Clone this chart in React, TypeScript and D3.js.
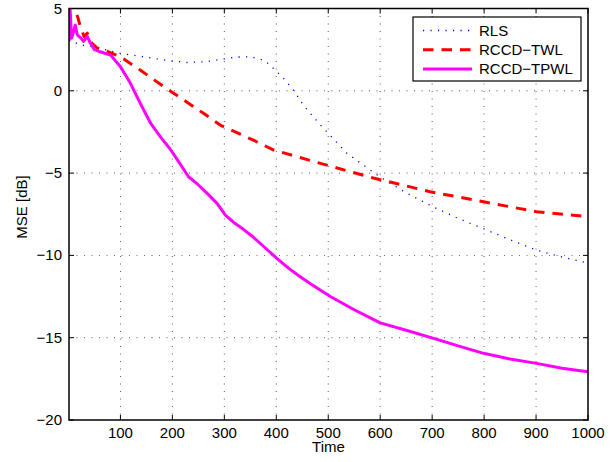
import React from "react";
import * as d3 from "d3";

const xTicks = [100, 200, 300, 400, 500, 600, 700, 800, 900, 1000];
const yTicks = [5, 0, -5, -10, -15, -20];

const rlsX = [1, 10, 20, 30, 42, 74, 100, 138, 187, 228, 267, 292, 324, 350, 363, 376, 388, 401, 414, 433, 452, 485, 536, 600, 650, 702, 750, 805, 850, 901, 950, 1000];
const rlsY = [3.1, 2.95, 2.85, 2.75, 2.7, 2.47, 2.27, 2.1, 1.86, 1.72, 1.77, 1.9, 2.05, 2.07, 1.97, 1.87, 1.56, 1.15, 0.75, 0.04, -0.87, -2.08, -3.8, -5.24, -6.2, -7.05, -7.75, -8.46, -9.05, -9.68, -10.1, -10.47];

const twlX = [1, 8, 14, 22, 30, 36, 45, 55, 68, 100, 138, 170, 203, 260, 292, 356, 395, 485, 587, 696, 799, 901, 1000];
const twlY = [4.0, 5.4, 4.9, 4.0, 3.3, 3.5, 2.9, 2.6, 2.47, 2.07, 1.26, 0.55, -0.16, -1.37, -2.08, -3.0, -3.6, -4.41, -5.3, -6.13, -6.74, -7.35, -7.65];

const tpwlX = [1, 3, 6, 10, 13, 17, 24, 29, 36, 42, 50, 61, 81, 100, 119, 138, 158, 177, 196, 212, 231, 247, 267, 286, 302, 318, 336, 356, 379, 401, 424, 446, 465, 504, 550, 600, 650, 703, 750, 799, 850, 901, 950, 1000];
const tpwlY = [3.0, 5.0, 3.2, 3.6, 4.0, 3.4, 3.2, 3.0, 3.3, 2.9, 2.5, 2.37, 2.17, 1.46, 0.47, -0.75, -1.97, -2.8, -3.55, -4.3, -5.22, -5.63, -6.23, -6.84, -7.55, -8.0, -8.4, -8.9, -9.55, -10.18, -10.79, -11.3, -11.7, -12.5, -13.3, -14.1, -14.55, -15.04, -15.5, -15.95, -16.3, -16.56, -16.85, -17.07];

const legendLabels = ["RLS", "RCCD\u2212TWL", "RCCD\u2212TPWL"];

const L = 69, R = 588, T = 8.5, B = 420;
const font = "'Liberation Sans', Arial, Helvetica, sans-serif";

export default function App() {
  const x = d3.scaleLinear().domain([1, 1000]).range([L, R]);
  const y = d3.scaleLinear().domain([-20, 5]).range([B, T]);
  const line = d3.line<[number, number]>().x(d => x(d[0])).y(d => y(d[1]));
  const zip = (xs: number[], ys: number[]) => xs.map((v, i) => [v, ys[i]] as [number, number]);

  const series = [
    { d: zip(rlsX, rlsY), color: "#0000ff", w: 1.3, dash: "1.2,6.3" },
    { d: zip(twlX, twlY), color: "#ff0000", w: 3, dash: "10.5,8" },
    { d: zip(tpwlX, tpwlY), color: "#ff00ff", w: 3, dash: undefined },
  ];

  return (
    <svg width={616} height={462} style={{ position: "absolute", left: 0, top: 0, background: "#fff" }} fontFamily={font}>
      <defs>
        <clipPath id="plotclip">
          <rect x={L} y={T} width={R - L} height={B - T} />
        </clipPath>
      </defs>
      <rect x={0} y={0} width={616} height={462} fill="#fff" />
      {xTicks.slice(0, -1).map(t => (
        <line key={"gx" + t} x1={x(t)} x2={x(t)} y1={T} y2={B} stroke="#000" strokeWidth={0.8} strokeDasharray="1,6.5" opacity={0.8} />
      ))}
      {yTicks.slice(1, -1).map(t => (
        <line key={"gy" + t} x1={L} x2={R} y1={y(t)} y2={y(t)} stroke="#000" strokeWidth={0.8} strokeDasharray="1,6.5" opacity={0.8} />
      ))}
      <g clipPath="url(#plotclip)">
        {series.map((s, i) => (
          <path key={i} d={line(s.d) || ""} fill="none" stroke={s.color} strokeWidth={s.w} strokeDasharray={s.dash} strokeLinejoin="round" />
        ))}
      </g>
      {xTicks.map(t => (
        <g key={"tx" + t}>
          <line x1={x(t)} x2={x(t)} y1={B} y2={B - 5} stroke="#000" />
          <line x1={x(t)} x2={x(t)} y1={T} y2={T + 5} stroke="#000" />
          <text x={x(t)} y={437.5} fontSize={15} textAnchor="middle" fill="#000">{t}</text>
        </g>
      ))}
      {yTicks.map(t => (
        <g key={"ty" + t}>
          <line x1={L} x2={L + 5} y1={y(t)} y2={y(t)} stroke="#000" />
          <line x1={R} x2={R - 5} y1={y(t)} y2={y(t)} stroke="#000" />
          <text x={62} y={y(t) + 5} fontSize={15} textAnchor="end" fill="#000">{t < 0 ? "\u2212" + Math.abs(t) : String(t)}</text>
        </g>
      ))}
      <rect x={L} y={T} width={R - L} height={B - T} fill="none" stroke="#000" strokeWidth={1.5} />
      <text x={(L + R) / 2} y={452} fontSize={15} textAnchor="middle" fill="#000">Time</text>
      <text transform={`translate(27,207) rotate(-90)`} fontSize={15} textAnchor="middle" fill="#000">MSE [dB]</text>
      <rect x={413} y={17} width={168} height={64} fill="#fff" stroke="#000" strokeWidth={1.2} />
      {series.map((s, i) => (
        <g key={"lg" + i}>
          <line x1={423} x2={472} y1={30.5 + i * 19.3} y2={30.5 + i * 19.3} stroke={s.color} strokeWidth={s.w} strokeDasharray={s.dash} />
          <text x={479} y={35.5 + i * 19.3} fontSize={15} fill="#000">{legendLabels[i]}</text>
        </g>
      ))}
    </svg>
  );
}
